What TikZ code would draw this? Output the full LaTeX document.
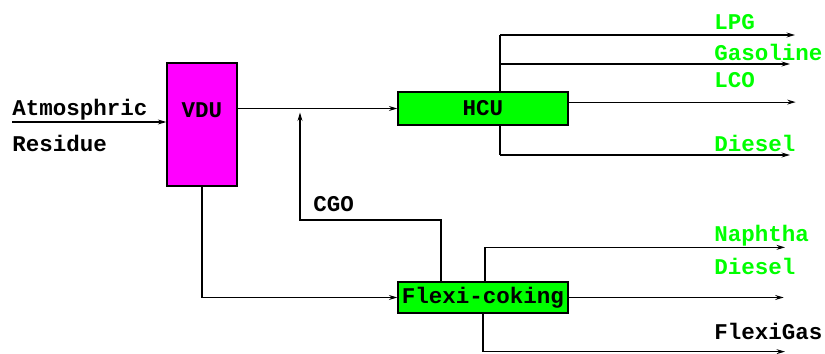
\documentclass[tikz,border=0pt]{standalone}
\usepackage{fontspec}
\setmonofont{Liberation Mono}
\usepackage{tikz}
\usetikzlibrary{arrows.meta}
\definecolor{prodgreen}{RGB}{0,255,0}
\definecolor{vdumagenta}{RGB}{255,0,255}
\tikzset{
  unit/.style={draw, line width=0.9pt, inner sep=0pt},
  flow/.style={line width=0.8pt, -{Stealth[length=6pt,width=3.5pt]}},
  pipe/.style={line width=0.8pt},
  tag/.style={font=\ttfamily\bfseries\fontsize{16}{18}\selectfont, inner sep=0pt, anchor=west}
}

\begin{document}
\begin{tikzpicture}[x=0.025cm,y=-0.025cm]
        \useasboundingbox (0,0) rectangle (825,354);
        \node[unit, fill=vdumagenta, minimum width=1.75cm, minimum height=3.075cm] (vdu) at (202,124.5) {};
        \node[unit, fill=prodgreen, minimum width=4.25cm, minimum height=0.825cm] (hcu) at (483,108.5) {};
        \node[unit, fill=prodgreen, minimum width=4.25cm, minimum height=0.775cm] (flexi) at (483,297.5) {};
        \node[tag, anchor=center] (vdulbl) at (202,110) {VDU};
        \node[tag, anchor=center] (hculbl) at (hcu) {HCU};
        \node[tag, anchor=center] (flexilbl) at (flexi) {Flexi-coking};
        \coordinate (feed) at (12,122);
        \coordinate (cgo) at (300,220);
        \coordinate (hcutop) at (500,35);
        \coordinate (hcugas) at (500,64);
        \coordinate (hcubot) at (500,155);
        \draw[flow] (feed) -- (feed -| vdu.west);
        \draw[flow] (vdu.east |- hcu) -- (hcu.west);
        \draw[flow] ([xshift=-1.05cm]flexi.north) |- (cgo) -- ([yshift=-0.1cm]cgo |- hcu);
        \draw[flow] (vdu.south) |- (flexi.west);
        \draw[pipe] (hcutop) -- (hcutop |- hcu.north);
        \draw[pipe] (hcubot |- hcu.south) -- (hcubot);
        \draw[flow] (hcutop) -- ++(295,0);
        \draw[flow] (hcugas) -- ++(290,0);
        \draw[flow] ([yshift=0.16cm]hcu.east) -- ++(227,0);
        \draw[flow] (hcubot) -- ++(290,0);
        \draw[flow] ([xshift=0.05cm]flexi.north) |- ++(300,-34);
        \draw[flow] (flexi.east) -- ++(215,0);
        \draw[flow] (flexi.south) |- ++(302,38);
        \node[tag] (atm) at (12,110) {Atmosphric};
        \node[tag] (res) at (12,143) {Residue};
        \node[tag] (cgolbl) at (313,204) {CGO};
        \node[tag, prodgreen] (lpg) at (714,22) {LPG};
        \node[tag, prodgreen] (gas) at (714,52) {Gasoline};
        \node[tag, prodgreen] (lco) at (714,80) {LCO};
        \node[tag, prodgreen] (dsl) at (714,143) {Diesel};
        \node[tag, prodgreen] (nap) at (714,236) {Naphtha};
        \node[tag, prodgreen] (fdsl) at (714,266) {Diesel};
        \node[tag] (fgas) at (714,331) {FlexiGas};
    \end{tikzpicture}
\end{document}
